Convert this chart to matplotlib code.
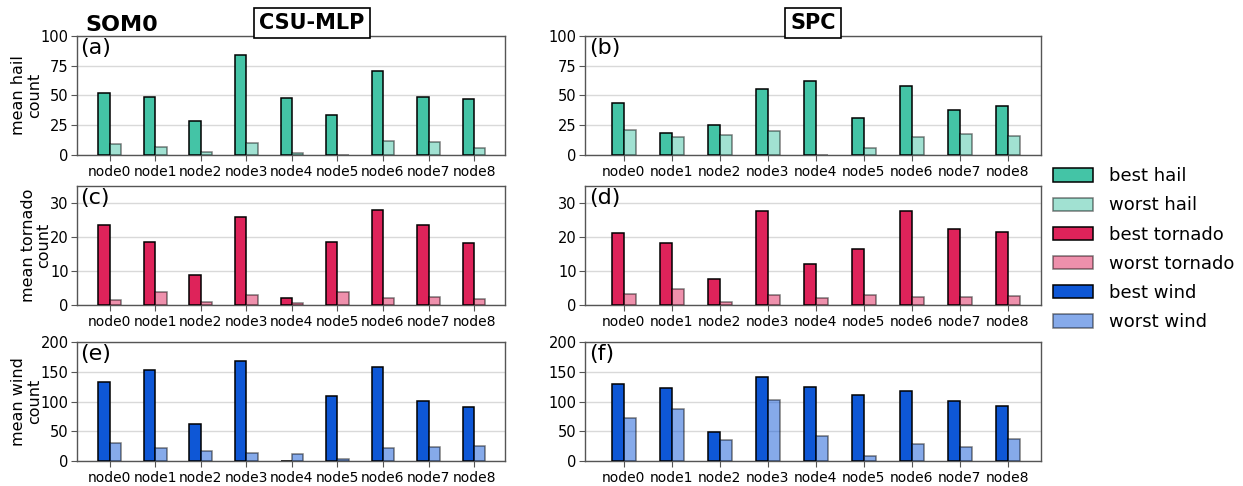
import numpy as np
import matplotlib.pyplot as plt

plt.rcParams['font.family'] = ['DejaVu Sans']

nodes = ['node0', 'node1', 'node2', 'node3', 'node4', 'node5', 'node6', 'node7', 'node8']

# CSU-MLP
csu_best_hail = [52, 48.6, 28.5, 84, 48, 33.5, 70.4, 49, 47]
csu_worst_hail = [9.5, 6.7, 2.2, 10, 1.7, 0.3, 11.7, 10.6, 5.9]
csu_best_tor = [23.6, 18.4, 8.8, 25.9, 2.1, 18.6, 28, 23.5, 18.2]
csu_worst_tor = [1.6, 3.8, 0.9, 2.9, 0.7, 3.9, 2.1, 2.5, 1.8]
csu_best_wind = [132.4, 153, 62.6, 168.7, 0.5, 109.5, 158.7, 100.6, 90.5]
csu_worst_wind = [30.7, 21.2, 16.2, 13.4, 11.2, 2.8, 21.2, 24, 25.7]

# SPC
spc_best_hail = [43.6, 18.4, 24.9, 55.3, 62.6, 30.7, 58, 38, 41.3]
spc_worst_hail = [20.7, 15.1, 16.8, 19.8, 0.2, 6.1, 14.8, 17.3, 15.9]
spc_best_tor = [21.1, 18.2, 7.6, 27.6, 12, 16.4, 27.5, 22.5, 21.6]
spc_worst_tor = [3.1, 4.7, 0.8, 3.0, 2.1, 2.8, 2.45, 2.5, 2.6]
spc_best_wind = [130, 123, 48.6, 142, 125, 110.6, 117.3, 100.6, 91.6]
spc_worst_wind = [71.5, 87, 35.8, 102, 41.3, 8.4, 28, 23.5, 36.9]

colors = {'hail': '#44c4a6', 'tornado': '#de235a', 'wind': '#0e57d6'}
ylims = {'hail': (0, 100, [0, 25, 50, 75, 100]),
         'tornado': (0, 35, [0, 10, 20, 30]),
         'wind': (0, 200, [0, 50, 100, 150, 200])}

fig = plt.figure(figsize=(12.43, 4.86), dpi=100)

W, H = 1243, 486
cols = [(77, 505, (-0.72, 8.68)), (585, 1041, (-0.81, 8.69))]
rows = [(36, 155), (186, 305), (342, 461)]

data = [
    [('hail', csu_best_hail, csu_worst_hail), ('tornado', csu_best_tor, csu_worst_tor),
     ('wind', csu_best_wind, csu_worst_wind)],
    [('hail', spc_best_hail, spc_worst_hail), ('tornado', spc_best_tor, spc_worst_tor),
     ('wind', spc_best_wind, spc_worst_wind)],
]
letters = [['(a)', '(c)', '(e)'], ['(b)', '(d)', '(f)']]

x = np.arange(len(nodes))
w = 0.25
axes = {}
for c, (x0, x1, xl) in enumerate(cols):
    for r, (y0, y1) in enumerate(rows):
        ax = fig.add_axes([x0 / W, 1 - y1 / H, (x1 - x0) / W, (y1 - y0) / H])
        axes[(c, r)] = ax
        hazard, best, worst = data[c][r]
        col = colors[hazard]
        ax.bar(x - w / 2, best, w, color=col, edgecolor='black', linewidth=1.1,
               label='best ' + hazard, zorder=3)
        ax.bar(x + w / 2, worst, w, color=col, edgecolor='black', linewidth=1.1,
               alpha=0.5, label='worst ' + hazard, zorder=3)
        lo, hi, ticks = ylims[hazard]
        ax.set_ylim(lo, hi)
        ax.set_yticks(ticks)
        ax.set_xlim(*xl)
        ax.set_xticks(x)
        ax.set_xticklabels(nodes, fontsize=10)
        ax.tick_params(axis='y', labelsize=10.5, length=4, color='#555555', pad=2)
        ax.tick_params(axis='x', length=4, color='#555555', pad=3)
        ax.yaxis.grid(True, color='#d9d9d9', linewidth=1.0, zorder=0)
        ax.set_axisbelow(True)
        for s in ax.spines.values():
            s.set_color('#555555')
            s.set_linewidth(1.0)
        ax.text(0.008, 0.985, letters[c][r], transform=ax.transAxes,
                ha='left', va='top', fontsize=16)
        if c == 0:
            ax.set_ylabel('mean %s\ncount' % hazard, fontsize=11.5, labelpad=-1,
                          linespacing=1.05)

box = dict(boxstyle='square,pad=0.25', facecolor='white', edgecolor='black', linewidth=1.2)
axes[(0, 0)].text(0.549, 1.11, 'CSU-MLP', transform=axes[(0, 0)].transAxes,
                  ha='center', va='center', fontsize=15, fontweight='bold', bbox=box,
                  zorder=10)
axes[(1, 0)].text(0.5, 1.11, 'SPC', transform=axes[(1, 0)].transAxes,
                  ha='center', va='center', fontsize=15, fontweight='bold', bbox=box,
                  zorder=10)
fig.text(85 / W, 1 - 31 / H, 'SOM0', ha='left', va='baseline', fontsize=16,
         fontweight='bold')

handles = []
labels = []
for r in range(3):
    h, l = axes[(0, r)].get_legend_handles_labels()
    handles += h
    labels += l
fig.legend(handles, labels, loc='upper left', bbox_to_anchor=(1037 / W, 1 - 151 / H),
           frameon=False, fontsize=13, handlelength=2.2, handleheight=0.75,
           labelspacing=0.62, handletextpad=0.9)

fig.savefig('out.png', dpi=100)
